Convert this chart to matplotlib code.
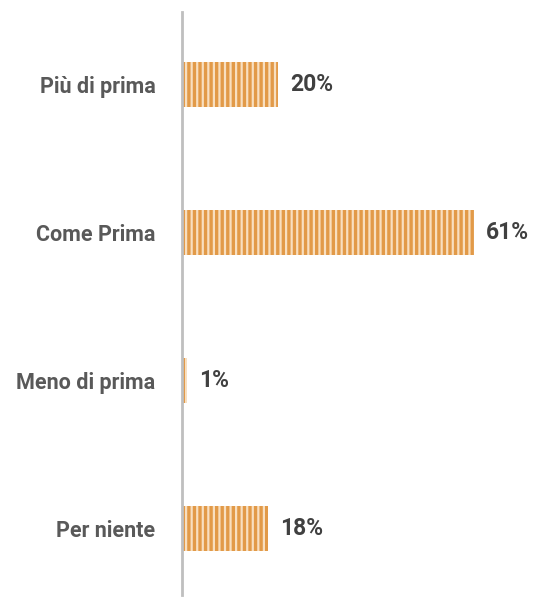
import matplotlib
matplotlib.use("Agg")
import matplotlib.pyplot as plt

plt.rcParams["hatch.linewidth"] = 1.6
plt.rcParams["font.family"] = ["DejaVu Sans Condensed", "Roboto", "DejaVu Sans"]

categories = ["Più di prima", "Come Prima", "Meno di prima", "Per niente"]
values = [20, 61, 1, 18]
labels = ["20%", "61%", "1%", "18%"]

fig = plt.figure(figsize=(5.35, 5.97), dpi=100)
ax = fig.add_axes([182 / 535, 2 / 597, 353 / 535, 583 / 597])

y = list(range(len(categories)))
ax.barh(y, values, height=0.3, color="#E29A48", edgecolor="#F8DFC0",
        hatch="|||", linewidth=0)

for yi, v, lab in zip(y, values, labels):
    ax.text(v + 2.5, yi, lab, va="center", ha="left", fontsize=16.5,
            fontweight="bold", color="#404040")

ax.set_xlim(0, 353 / 4.79)
ax.set_ylim(3.45, -0.49)
ax.set_yticks(y)
ax.set_yticklabels(categories, fontsize=15.5, fontweight="bold", color="#595959")
ax.tick_params(axis="y", length=0, pad=19)
ax.set_xticks([])
for s in ["top", "right", "bottom"]:
    ax.spines[s].set_visible(False)
ax.spines["left"].set_color("#BFBFBF")
ax.spines["left"].set_linewidth(2)

fig.savefig("out.png", dpi=100)
